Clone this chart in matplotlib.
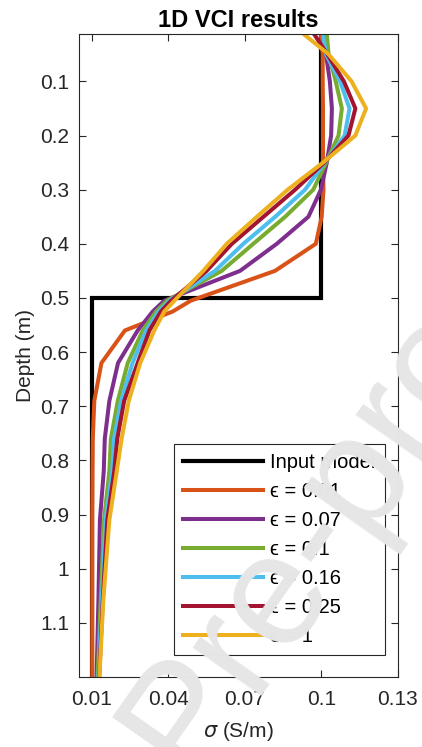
import matplotlib
matplotlib.use("Agg")
import matplotlib.pyplot as plt

plt.rcParams['font.family'] = ['Liberation Sans', 'DejaVu Sans']

# depth of the model nodes (m)
depth = [0.0125, 0.05, 0.1, 0.15, 0.2, 0.25, 0.3, 0.35, 0.4, 0.45, 0.505,
         0.525, 0.56, 0.62, 0.69, 0.76, 0.82, 0.91, 1.06, 1.2]

# true two-layer model
model_depth = [0.0125, 0.5, 0.5, 1.2]
model_sigma = [0.1, 0.1, 0.01, 0.01]

# inverted conductivity (S/m) for each epsilon
sigma_001 = [0.0998, 0.1005, 0.1005, 0.1006, 0.1006, 0.1006, 0.1008, 0.1001, 0.0978, 0.0818,
             0.0488, 0.0417, 0.0230, 0.0138, 0.0110, 0.0104, 0.0103, 0.0102, 0.0102, 0.0102]
sigma_007 = [0.1013, 0.1018, 0.1033, 0.1041, 0.1038, 0.1021, 0.0998, 0.0949, 0.0825, 0.0681,
             0.0384, 0.0339, 0.0280, 0.0203, 0.0169, 0.0151, 0.0147, 0.0132, 0.0126, 0.0119]
sigma_01 = [0.1021, 0.1028, 0.1056, 0.1080, 0.1067, 0.1018, 0.0968, 0.0858, 0.0733, 0.0609,
            0.0395, 0.0352, 0.0300, 0.0241, 0.0202, 0.0175, 0.0169, 0.0148, 0.0135, 0.0123]
sigma_016 = [0.1006, 0.1018, 0.1073, 0.1110, 0.1091, 0.1013, 0.0936, 0.0819, 0.0694, 0.0583,
             0.0404, 0.0362, 0.0313, 0.0260, 0.0215, 0.0187, 0.0180, 0.0154, 0.0139, 0.0126]
sigma_025 = [0.0971, 0.1023, 0.1088, 0.1133, 0.1106, 0.1011, 0.0897, 0.0773, 0.0649, 0.0550,
             0.0411, 0.0371, 0.0326, 0.0280, 0.0227, 0.0200, 0.0188, 0.0161, 0.0143, 0.0129]
sigma_1 = [0.0930, 0.1028, 0.1118, 0.1175, 0.1133, 0.1006, 0.0868, 0.0747, 0.0629, 0.0537,
           0.0424, 0.0384, 0.0345, 0.0290, 0.0245, 0.0217, 0.0198, 0.0169, 0.0145, 0.0130]

results = [sigma_001, sigma_007, sigma_01, sigma_016, sigma_025, sigma_1]
labels = ['\u03f5 = 0.01', '\u03f5 = 0.07', '\u03f5 = 0.1',
          '\u03f5 = 0.16', '\u03f5 = 0.25', '\u03f5 = 1']
colors = ['#D95319', '#7E2F8E', '#77AC30', '#4DBEEE', '#A2142F', '#EDB120']

xticks = [0.01, 0.04, 0.07, 0.1, 0.13]
xticklabels = ['0.01', '0.04', '0.07', '0.1', '0.13']
yticks = [0.1, 0.2, 0.3, 0.4, 0.5, 0.6, 0.7, 0.8, 0.9, 1.0, 1.1]
yticklabels = ['0.1', '0.2', '0.3', '0.4', '0.5', '0.6', '0.7', '0.8', '0.9', '1', '1.1']

fig = plt.figure(figsize=(4.22, 7.47), dpi=100)
ax = fig.add_axes([0.1872, 0.0937, 0.7559, 0.8608])

ax.plot(model_sigma, model_depth, color='k', lw=3.0, label='Input model', solid_joinstyle='miter')
for sig, lab, col in zip(results, labels, colors):
    ax.plot(sig, depth, color=col, lw=2.9, label=lab)

ax.set_xlim(0.005, 0.13)
ax.set_ylim(1.2, 0.0125)
ax.set_xticks(xticks)
ax.set_xticklabels(xticklabels)
ax.set_yticks(yticks)
ax.set_yticklabels(yticklabels)

dark = '#262626'
for s in ax.spines.values():
    s.set_color(dark)
    s.set_linewidth(0.8)
ax.tick_params(direction='in', length=5, width=0.8, top=True, right=True,
               labelsize=15, colors=dark)
ax.tick_params(axis='x', pad=9)
ax.tick_params(axis='y', pad=7)

ax.set_title('1D VCI results', fontsize=17, fontweight='bold', pad=5)
ax.set_xlabel(r'$\sigma$ (S/m)', fontsize=15, color=dark, labelpad=8)
ax.set_ylabel('Depth (m)', fontsize=15, color=dark, labelpad=4)

leg = ax.legend(loc='lower right', bbox_to_anchor=(0.959, 0.034), borderaxespad=0,
                fontsize=14.5, handlelength=4.0, handletextpad=0.35, labelspacing=0.5,
                borderpad=0.45, fancybox=False, framealpha=1, edgecolor=dark)
leg.get_frame().set_linewidth(0.8)

# faint diagonal stamp across the lower part
fig.text(0.45, -0.044, 'Pre-proof', fontsize=115, color='#e6e6e6', rotation=55,
         rotation_mode='anchor', ha='left', va='baseline', zorder=10)

fig.savefig('out.png', dpi=100)
